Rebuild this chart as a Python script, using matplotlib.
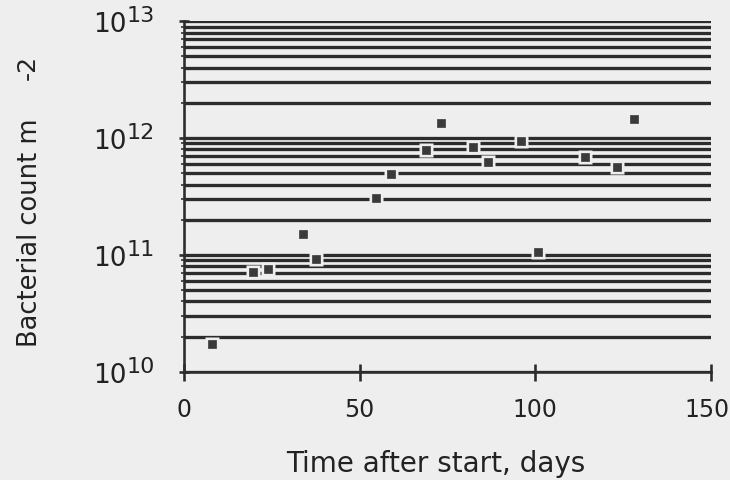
import numpy as np
import matplotlib
matplotlib.use('Agg')
import matplotlib.pyplot as plt
import matplotlib.transforms as mtransforms
from matplotlib.ticker import LogLocator, FixedFormatter, NullFormatter

# data
days = [7.9, 19.6, 24.0, 33.8, 37.5, 54.7, 59.0, 68.9, 73.1, 82.2,
        86.5, 96.1, 100.7, 114.3, 123.4, 128.2]
counts = [1.73e10, 7.2e10, 7.6e10, 1.5e11, 9.2e10, 3.05e11, 4.9e11, 7.9e11,
          1.36e12, 8.45e11, 6.3e11, 9.45e11, 1.05e11, 6.95e11, 5.66e11, 1.46e12]
x_ticks = [0, 50, 100, 150]
y_ticks = [1e10, 1e11, 1e12, 1e13]
y_exps = ['10', '11', '12', '13']

paper = '#eeeeee'
ink = '#2c2c2c'
txt = '#222222'
px = 0.72  # points per pixel at dpi 100

plt.rcParams['font.family'] = 'DejaVu Sans'
fig = plt.figure(figsize=(7.30, 4.81), dpi=100, facecolor=paper)
ax = fig.add_axes([0.2521, 0.2252, 0.7215, 0.7284])
ax.set_facecolor(paper)

ax.set_yscale('log')
ax.set_xlim(0, 150)
ax.set_ylim(y_ticks[0], y_ticks[-1])

# heavy horizontal rulings at every major and minor step
ax.set_yticks(y_ticks)
ax.yaxis.set_minor_locator(LogLocator(base=10, subs=np.arange(2, 10), numticks=10))
ax.grid(True, which='both', axis='y', color=ink, lw=3.3*px, zorder=1)
ax.set_axisbelow(True)

# points with a paper coloured halo that cuts the lines
ax.plot(days, counts, ls='none', marker='s', ms=14*px, mfc=paper, mec='none', zorder=3)
ax.plot(days, counts, ls='none', marker='s', ms=8*px, mfc='#3a3a3a', mec='#3a3a3a', mew=0.5, zorder=4)

for s in ['top', 'right']:
    ax.spines[s].set_visible(False)
for s in ['left', 'bottom']:
    ax.spines[s].set_color(ink)
    ax.spines[s].set_linewidth(2.6*px)

ax.set_xticks(x_ticks)
ax.tick_params(axis='x', which='major', direction='inout', length=17*px, width=2.6*px,
               color=ink, labelsize=17, pad=12, labelcolor=txt)
ax.tick_params(axis='y', which='major', direction='inout', length=10*px, width=2.6*px,
               color=ink, labelsize=19, pad=38, labelcolor=txt)
ax.tick_params(axis='y', which='minor', direction='out', length=3*px, width=1.6*px, color=ink)
ax.yaxis.set_major_formatter(FixedFormatter(['10'] * len(y_ticks)))
ax.yaxis.set_minor_formatter(NullFormatter())

# nudge the last x label so it stays on the page
lab = ax.get_xticklabels()[-1]
lab.set_transform(lab.get_transform() + mtransforms.ScaledTranslation(-4/100, 0, fig.dpi_scale_trans))

# exponents of the decade labels, nearly full size and slightly raised
up = mtransforms.ScaledTranslation(0, 6/100, fig.dpi_scale_trans)
trans = mtransforms.blended_transform_factory(ax.transAxes, ax.transData) + up
for v, e in zip(y_ticks, y_exps):
    ax.text(-0.109, v, e, transform=trans, ha='left', va='center', fontsize=16, color=txt)

ax.set_xlabel('Time after start, days', fontsize=20, color=txt)
ax.xaxis.set_label_coords(0.478, -0.221)
ax.set_ylabel('Bacterial count m', fontsize=18.5, color=txt)
ax.yaxis.set_label_coords(-0.268, 0.399)
ax.text(-0.296, 0.872, '-2', transform=ax.transAxes, rotation=90, ha='center', va='center',
        fontsize=18, color=txt)

fig.savefig('out.png', dpi=100, facecolor=paper)
